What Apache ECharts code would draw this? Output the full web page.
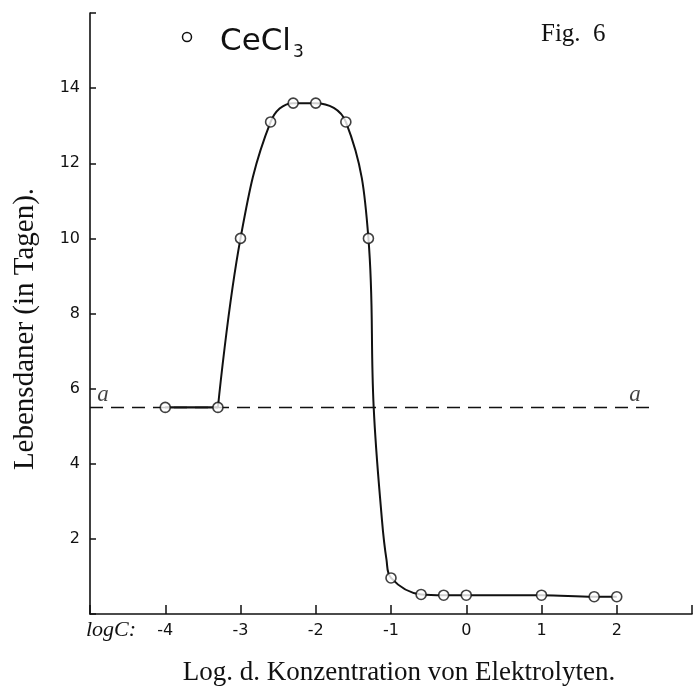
<!DOCTYPE html>
<html><head><meta charset="utf-8">
<script src="https://cdn.jsdelivr.net/npm/echarts@6/dist/echarts.min.js"></script>
<style>html,body{margin:0;padding:0;background:#fff}#c{width:697px;height:694px}</style>
</head><body><div id="c"></div>
<script>
// measured points (log c, Lebensdauer in Tagen)
const logC = [-4, -3.3, -3, -2.6, -2.3, -2, -1.6, -1.3, -1, -0.6, -0.3, 0, 1, 1.7, 2];
const days = [5.5, 5.5, 10, 13.1, 13.6, 13.6, 13.1, 10, 0.96, 0.52, 0.5, 0.5, 0.5, 0.46, 0.46];
// hand-drawn curve (sharp corner at index 1)
const curveX = [-4, -3.3, -3, -2.6, -2.3, -2, -1.6, -1.3, -1.23, -1.12, -1.06, -1, -0.6, -0.3, 0, 1, 1.7, 2];
const curveY = [5.5, 5.5, 10, 13.1, 13.6, 13.6, 13.1, 10, 5.5, 2.5, 1.45, 0.96, 0.52, 0.5, 0.5, 0.5, 0.46, 0.46];
const cornerIndex = 1;
// reference line "a"
const refLevel = 5.5;
const refX = [-5, 2.47];
const xTickLabels = {'-4': '-4', '-3': '-3', '-2': '-2', '-1': '-1', '0': '0', '1': '1', '2': '2'};
const yTickLabels = [2, 4, 6, 8, 10, 12, 14];

const hand = '"DejaVu Sans", sans-serif';
const serif = '"Liberation Serif", "DejaVu Serif", serif';

const curvePts = curveX.map((x, i) => [x, curveY[i]]);

const chart = echarts.init(document.getElementById('c'), null, {renderer: 'canvas'});
chart.setOption({
  backgroundColor: '#fff',
  animation: false,
  grid: {left: 90, right: 5, top: 13, bottom: 80},
  xAxis: {
    type: 'value', min: -5, max: 3, interval: 1,
    axisLine: {show: true, lineStyle: {color: '#111', width: 1.6}, onZero: false},
    axisTick: {show: true, inside: true, length: 9, lineStyle: {color: '#111', width: 1.5}},
    splitLine: {show: false},
    axisLabel: {
      color: '#111', fontFamily: hand, fontSize: 16, margin: 9,
      formatter: v => (xTickLabels[String(v)] !== undefined ? xTickLabels[String(v)] : '')
    }
  },
  yAxis: {
    type: 'value', min: 0, max: 16, interval: 2,
    axisLine: {show: true, lineStyle: {color: '#111', width: 1.6}, onZero: false},
    axisTick: {show: true, inside: true, length: 6, lineStyle: {color: '#111', width: 1.5}},
    splitLine: {show: false},
    axisLabel: {
      color: '#111', fontFamily: hand, fontSize: 16, margin: 10,
      formatter: v => (yTickLabels.indexOf(v) >= 0 ? String(v) : '')
    }
  },
  series: [
    {
      type: 'line', name: 'a', data: refX.map(x => [x, refLevel]),
      symbol: 'none', silent: true,
      lineStyle: {color: '#111', width: 1.5, type: [13, 8]}
    },
    {
      type: 'scatter', name: 'a-labels', data: refX.map(x => [x, refLevel]),
      symbolSize: 0, silent: true,
      label: {
        show: true, formatter: 'a', fontFamily: serif, fontStyle: 'italic', fontSize: 23, color: '#111',
        position: 'top', distance: 1
      },
      labelLayout: function (p) {
        return p.dataIndex === 0 ? {dx: 13} : {dx: -17};
      }
    },
    {
      type: 'line', name: 'curve-flat', data: curvePts.slice(0, cornerIndex + 1),
      symbol: 'none', silent: true,
      lineStyle: {color: '#111', width: 2.2}
    },
    {
      type: 'line', name: 'curve', data: curvePts.slice(cornerIndex),
      smooth: 0.4, symbol: 'none', silent: true,
      lineStyle: {color: '#111', width: 2}
    },
    {
      type: 'scatter', name: 'CeCl3', data: logC.map((x, i) => [x, days[i]]),
      symbol: 'circle', symbolSize: 10, z: 5,
      itemStyle: {color: '#fff', borderColor: '#111', borderWidth: 1.6}
    }
  ],
  graphic: [
    {type: 'circle', shape: {cx: 187, cy: 37, r: 4.5}, style: {fill: '#fff', stroke: '#111', lineWidth: 1.5}},
    {type: 'text', left: 220, top: 26, style: {
      text: '{m|CeCl}{s|3}', fill: '#111',
      rich: {m: {fontFamily: hand, fontSize: 31, fill: '#111'}, s: {fontFamily: hand, fontSize: 17, fill: '#111', padding: [22, 0, 0, 2]}}
    }},
    {type: 'text', left: 541, top: 22, style: {text: 'Fig.  6', font: '25px ' + serif, fill: '#111'}},
    {type: 'text', left: 86, top: 619, style: {text: 'logC:', font: 'italic 22px ' + serif, fill: '#111'}},
    {type: 'text', x: 399, y: 673, style: {text: 'Log. d. Konzentration von Elektrolyten.', font: '27px ' + serif, fill: '#111', align: 'center', verticalAlign: 'middle'}},
    {type: 'text', x: 25, y: 329, rotation: Math.PI / 2, style: {text: 'Lebensdaner (in Tagen).', font: '29px ' + serif, fill: '#111', align: 'center', verticalAlign: 'middle'}}
  ]
});
</script></body></html>
